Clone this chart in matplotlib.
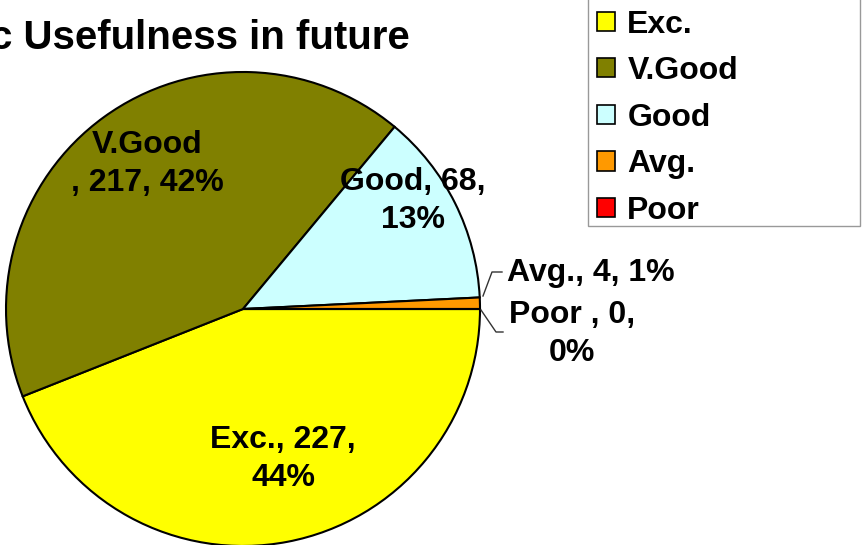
import matplotlib.pyplot as plt
from matplotlib.patches import Patch, Rectangle

# dados
categorias = ['Exc.', 'V.Good', 'Good', 'Avg.', 'Poor']
valores = [227, 217, 68, 4, 0]
cores = ['#FFFF00', '#808000', '#CCFFFF', '#FF9900', '#FF0000']
rotulos = ['Exc., 227,\n44%', 'V.Good\n, 217, 42%', 'Good, 68,\n13%', 'Avg., 4, 1%', 'Poor , 0,\n0%']

plt.rcParams['font.family'] = ['Liberation Sans', 'DejaVu Sans']
plt.rcParams['font.weight'] = 'bold'

W, H = 863, 545
fig = plt.figure(figsize=(W / 100, H / 100), dpi=100)

# centro do pizza em pixels e raio
cx, cy, r = 243, 309, 237
ax = fig.add_axes([(cx - r) / W, (H - cy - r) / H, 2 * r / W, 2 * r / H])

fatias, _ = ax.pie(valores, colors=cores, startangle=0, counterclock=False, radius=1,
                   wedgeprops=dict(edgecolor='black', linewidth=1.5))
# pie() muda os limites, entao ajusta depois
ax.set_xlim(-1, 1)
ax.set_ylim(-1, 1)
ax.axis('off')
for f in fatias:
    f.set_clip_on(False)

def px(x, y):
    return (x - cx) / r, (cy - y) / r

fs = 23
pos = [px(283, 459), px(147, 164), px(413, 201), px(507, 273), px(572, 334)]
for i, rot in enumerate(rotulos):
    ha = 'left' if i == 3 else 'center'
    ax.text(pos[i][0], pos[i][1], rot, ha=ha, va='center', fontsize=fs,
            fontweight='bold', linespacing=1.35, clip_on=False)

# linhas de chamada
lx, ly = zip(px(483, 296), px(492, 272), px(502, 272))
ax.plot(lx, ly, color='#333333', lw=1, clip_on=False)
lx, ly = zip(px(481, 310), px(496, 332), px(503, 332))
ax.plot(lx, ly, color='#333333', lw=1, clip_on=False)

fig.text(410 / W, 1 - 38 / H, 'c Usefulness in future', ha='right', va='center',
         fontsize=29, fontweight='bold')

# moldura da legenda (topo cortado)
fig.patches.append(Rectangle((588 / W, 1 - 226 / H), 272 / W, 240 / H,
                             transform=fig.transFigure, facecolor='white',
                             edgecolor='#999999', linewidth=1))

alcas = [Patch(facecolor=c, edgecolor='black', linewidth=1.2) for c in cores]
leg = fig.legend(alcas, categorias, loc='lower left',
                 bbox_to_anchor=(597 / W, 1 - 226 / H), borderaxespad=0,
                 fontsize=fs, handlelength=0.55, handleheight=0.55,
                 handletextpad=0.4, labelspacing=0.52, borderpad=0,
                 frameon=False)

fig.savefig('out.png', dpi=100)
